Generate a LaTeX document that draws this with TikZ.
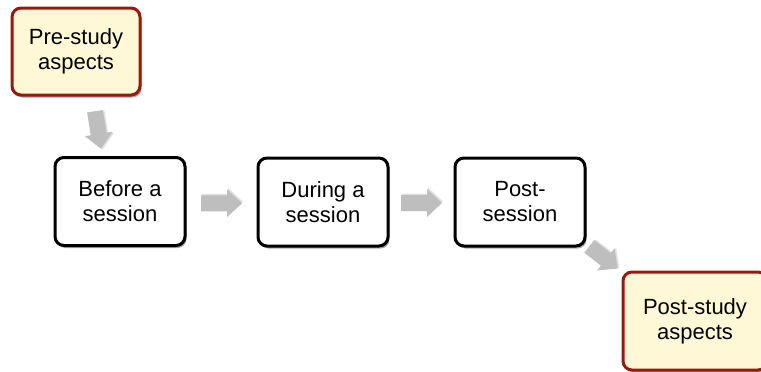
\documentclass[tikz,border=0pt]{standalone}
\usepackage{fontspec}
\setmainfont{Liberation Sans}
\usetikzlibrary{shadows,calc}
\definecolor{boxred}{RGB}{152,26,12}
\definecolor{boxyellow}{RGB}{255,248,214}
\definecolor{arrowgray}{RGB}{190,190,190}
\tikzset{
  stepbox/.style={draw=black, line width=3pt, fill=white, rounded corners=9pt,
    minimum width=130pt, minimum height=88pt, inner sep=0pt, align=center,
    font=\fontsize{22}{25}\selectfont,
    drop shadow={shadow xshift=1.5pt, shadow yshift=-2.5pt, opacity=0.35, fill=black}},
  studybox/.style={stepbox, draw=boxred, fill=boxyellow},
  blockarrow/.style={fill=arrowgray, draw=none},
  blockshadow/.style={fill=black, opacity=0.12, draw=none}
}
\newcommand{\blockarr}[4]{% center, angle, length, name
  \begin{scope}[shift={#1}, rotate=#2]
    \path[blockshadow] (-#3/2+1,-8-1.5) -- (#3/2-15+1,-8-1.5) -- (#3/2-15+1,-14-1.5) -- (#3/2+1,0-1.5) -- (#3/2-15+1,14-1.5) -- (#3/2-15+1,8-1.5) -- (-#3/2+1,8-1.5) -- cycle;
    \path[blockarrow] (-#3/2,-8) -- (#3/2-15,-8) -- (#3/2-15,-14) -- (#3/2,0) -- (#3/2-15,14) -- (#3/2-15,8) -- (-#3/2,8) -- cycle;
    \coordinate (#4) at (0,0);
  \end{scope}}
\begin{document}
\begin{tikzpicture}[x=1pt, y=-1pt]
\clip (0,0) rectangle (761,372);
\fill[white] (0,0) rectangle (761,372);
\node[studybox, minimum width=128pt, minimum height=87pt] (pre) at (76,51.5) {Pre-study\\aspects};
\node[stepbox] (before) at (120,201.5) {Before a\\session};
\node[stepbox] (during) at (323,202) {During a\\session};
\node[stepbox] (postsess) at (520,202) {Post-\\session};
\node[studybox, minimum width=144pt, minimum height=98pt] (post) at (695,321) {Post-study\\aspects};
\blockarr{($(before.east)!0.5!(during.west)+(0,1.5)$)}{0}{41}{a2}
\blockarr{($(during.east)!0.5!(postsess.west)+(0,1)$)}{0}{41}{a3}
\blockarr{(98,130)}{-81}{38}{a1}
\blockarr{(603.5,257.5)}{-38}{36}{a4}
\end{tikzpicture}
\end{document}
